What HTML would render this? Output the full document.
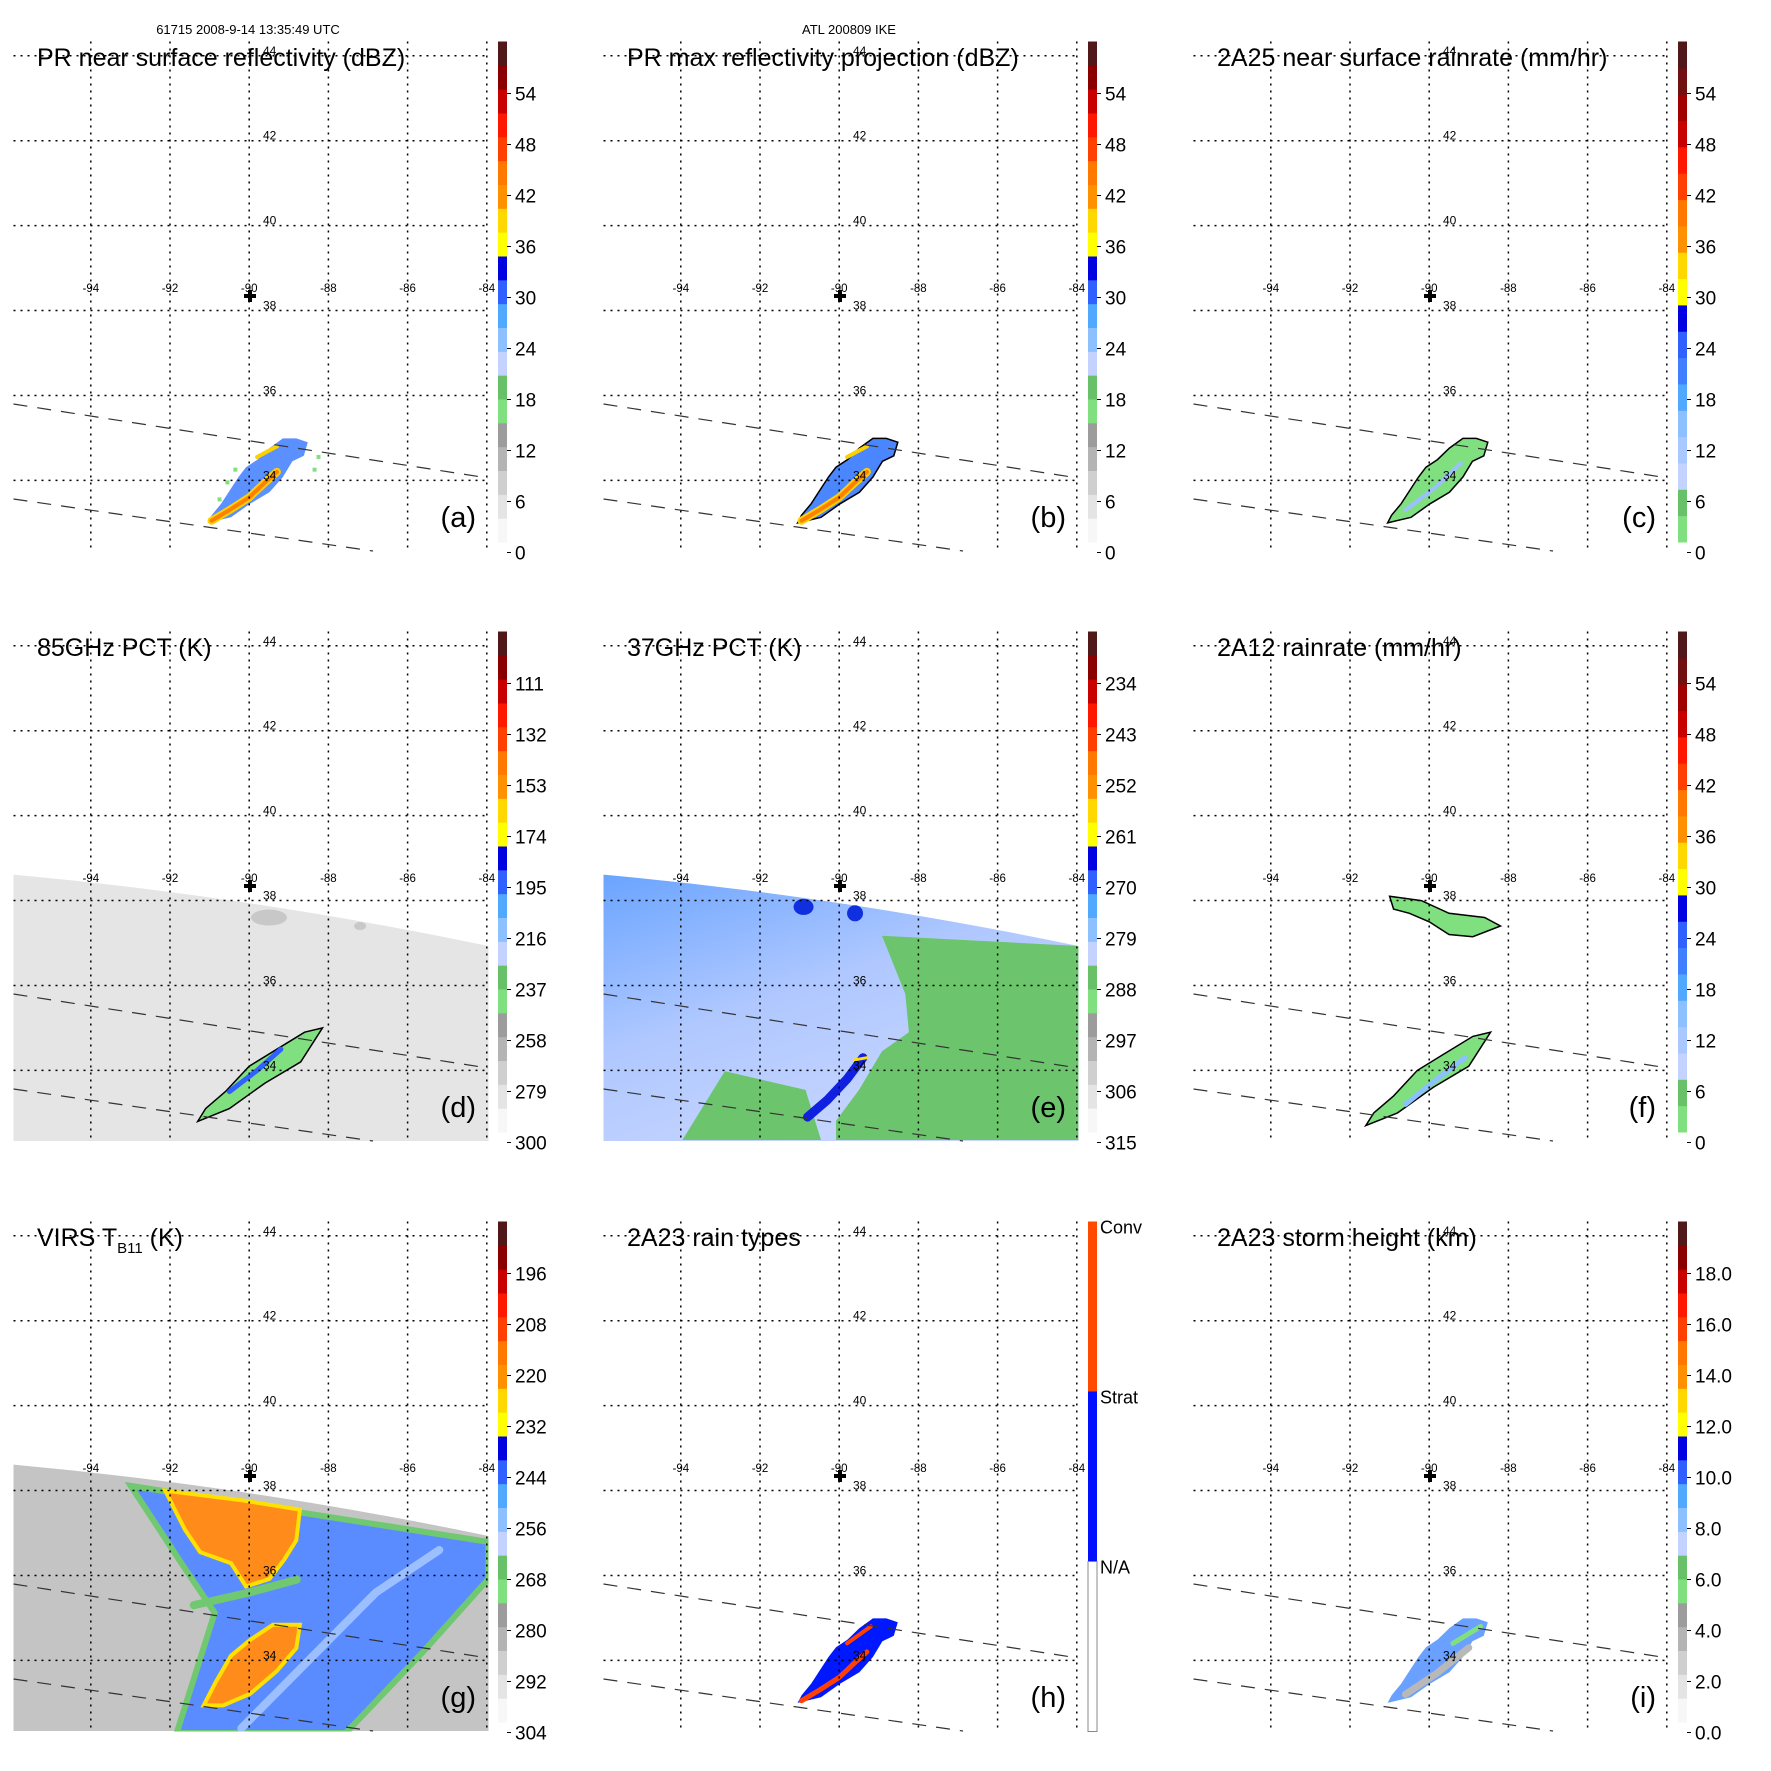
<!DOCTYPE html>
<html><head><meta charset="utf-8"><style>
html,body{margin:0;padding:0;background:#fff;}
svg{display:block;font-family:"Liberation Sans",sans-serif;}
</style></head><body>
<svg id="fig" width="1771" height="1771" viewBox="0 0 1771 1771" xmlns="http://www.w3.org/2000/svg">
<text x="248" y="34" font-size="13" text-anchor="middle">61715 2008-9-14 13:35:49 UTC</text>
<text x="849" y="34" font-size="13" text-anchor="middle">ATL 200809 IKE</text>
</svg>
<script>
const NS="http://www.w3.org/2000/svg";
const svg=document.getElementById('fig');
const lonTicks=[-94,-92,-90,-88,-86,-84];
const latTicks=[44,42,40,38,36,34];
const stormLon=[-91.05,-90.46,-89.98,-89.49,-89.15,-88.91,-88.62,-88.52,-88.81,-89.15,-89.49,-89.79,-90.08,-90.27,-90.46,-90.71,-90.95];
const stormLat=[33.0,33.13,33.45,33.72,34.08,34.45,34.58,34.90,34.99,34.99,34.76,34.49,34.31,34.08,33.81,33.45,33.18];
const convLon=[-90.95,-90.5,-90.0,-89.6,-89.3];
const convLat=[33.05,33.3,33.6,33.95,34.2];
const gBandLon=[-92.99,-83.96,-83.96,-85.61,-87.56,-91.83,-90.87,-91.72];
const gBandLat=[38.11,36.79,35.92,34.20,32.29,32.29,35.12,36.30];
const gTopLon=[-92.12,-90.18,-88.72,-88.81,-89.11,-89.49,-90.08,-90.46,-91.24,-91.63];
const gTopLat=[38.0,37.77,37.55,36.83,36.38,35.92,35.74,36.29,36.55,37.09];
const gBotLon=[-91.15,-90.85,-90.46,-89.98,-89.40,-88.72,-88.81,-89.30,-89.98,-90.66];
const gBotLat=[32.94,33.48,34.11,34.48,34.84,34.84,34.29,33.75,33.21,32.94];
const eGreenLon=[-88.92,-83.96,-83.96,-90.08,-90.08,-89.5,-88.92,-88.24,-88.33];
const eGreenLat=[37.17,36.93,32.36,32.36,32.81,33.54,34.45,34.90,35.80];
const eGreen2Lon=[-92.89,-90.85,-90.46,-93.96];
const eGreen2Lat=[33.98,33.54,32.36,32.36];
const fNorthLon=[-91.0,-90.2,-89.5,-88.6,-88.2,-88.9,-89.5,-90.0,-90.5,-90.9];
const fNorthLat=[38.1,38.0,37.7,37.6,37.4,37.15,37.2,37.5,37.7,37.8];
const fStormLon=[-91.6,-90.8,-89.9,-89.0,-88.45,-88.9,-89.6,-90.3,-90.9,-91.4];
const fStormLat=[32.7,33.0,33.6,34.1,34.9,34.8,34.4,34.0,33.4,33.0];
const cbA=['#f7f7f7','#e4e4e4','#cfcfcf','#b4b4b4','#9c9c9c','#80e080','#68c068','#c4d2ff','#8cc0ff','#50a8ff','#3060ff','#0000e0','#ffff00','#ffd800','#ff9000','#ff7800','#ff4000','#ff1800','#c80000','#8a0000','#501818'];
const cbC=['#80e080','#68c068','#c4d2ff','#a8c8ff','#8cc0ff','#50a8ff','#4080ff','#3060ff','#0000e0','#ffff00','#ffd800','#ff9000','#ff7800','#ff4000','#ff1800','#c80000','#a00000','#701010','#501818'];
const labels={
 a:['54','48','42','36','30','24','18','12','6','0'],
 b:['54','48','42','36','30','24','18','12','6','0'],
 c:['54','48','42','36','30','24','18','12','6','0'],
 d:['111','132','153','174','195','216','237','258','279','300'],
 e:['234','243','252','261','270','279','288','297','306','315'],
 f:['54','48','42','36','30','24','18','12','6','0'],
 g:['196','208','220','232','244','256','268','280','292','304'],
 i:['18.0','16.0','14.0','12.0','10.0','8.0','6.0','4.0','2.0','0.0']};
const panels=[
 {k:'a',c:0,r:0,t:'PR near surface reflectivity (dBZ)',cb:cbA},
 {k:'b',c:1,r:0,t:'PR max reflectivity projection (dBZ)',cb:cbA},
 {k:'c',c:2,r:0,t:'2A25 near surface rainrate (mm/hr)',cb:cbC},
 {k:'d',c:0,r:1,t:'85GHz PCT (K)',cb:cbA},
 {k:'e',c:1,r:1,t:'37GHz PCT (K)',cb:cbA},
 {k:'f',c:2,r:1,t:'2A12 rainrate (mm/hr)',cb:cbC},
 {k:'g',c:0,r:2,t:'VIRS',cb:cbA},
 {k:'h',c:1,r:2,t:'2A23 rain types',cb:null},
 {k:'i',c:2,r:2,t:'2A23 storm height (km)',cb:cbA}];
const X=lon=>90.8+(lon+94)*39.6;
const Y=lat=>55.8+(44-lat)*42.46;
function el(tag,attrs,parent){const e=document.createElementNS(NS,tag);for(const k in attrs)e.setAttribute(k,attrs[k]);(parent||svg).appendChild(e);return e;}
function pts(lons,lats){return lons.map((l,i)=>X(l).toFixed(1)+','+Y(lats[i]).toFixed(1)).join(' ');}
function poly(g,lons,lats,fill,stroke,sw,name){const p=el('polygon',{points:pts(lons,lats),fill:fill,stroke:stroke||'none','stroke-width':sw||0},g);

return p;}
function line(g,lons,lats,col,w,name){const p=el('polyline',{points:pts(lons,lats),fill:'none',stroke:col,'stroke-width':w,'stroke-linecap':'round','stroke-linejoin':'round'},g);

return p;}
const defs=el('defs',{});
panels.forEach(P=>{
 const ox=P.c*590, oy=P.r*590;
 const g=el('g',{transform:`translate(${ox},${oy})`});
 
 
 const cp=el('clipPath',{id:'clip'+P.k},defs);
 el('rect',{x:13.5,y:41.5,width:475,height:510},cp);
 const m=el('g',{'clip-path':`url(#clip${P.k})`},g);
 
 
 const swathTop=`M13.5,${Y(38.61)} Q250,${Y(38.1)} 488.5,${Y(36.93)} L488.5,551 L13.5,551 Z`;
 if(P.k==='d'){
  const s=el('path',{d:swathTop,fill:'#e5e5e5'},m);
  
  el('ellipse',{cx:X(-89.5),cy:Y(37.6),rx:18,ry:8,fill:'#c8c8c8'},m);
  el('ellipse',{cx:X(-87.2),cy:Y(37.4),rx:6,ry:4,fill:'#c8c8c8'},m);
  poly(m,fStormLon.map(v=>v+0.3),fStormLat.map(v=>v+0.1),'#80e080','#000',1.5,'pct85-storm');
  line(m,[-90.5,-89.8,-89.2],[33.5,34.0,34.5],'#3060ff',5,'pct85-core');
 }
 if(P.k==='e'){
  const gr=el('linearGradient',{id:'eg',x1:0,y1:0,x2:0.6,y2:1},defs);
  el('stop',{offset:0,'stop-color':'#6aa4ff'},gr);el('stop',{offset:0.5,'stop-color':'#b0c8ff'},gr);el('stop',{offset:1,'stop-color':'#c8d6ff'},gr);
  const s=el('path',{d:swathTop,fill:'url(#eg)'},m);
  
  poly(m,eGreenLon,eGreenLat,'#6cc46c','none',0,'pct37-warm-area');
  poly(m,eGreen2Lon,eGreen2Lat,'#6cc46c','none',0,'pct37-warm-area-2');
  el('ellipse',{cx:X(-90.9),cy:Y(37.85),rx:10,ry:8,fill:'#1030e0'},m);
  el('ellipse',{cx:X(-89.6),cy:Y(37.7),rx:8,ry:8,fill:'#1030e0'},m);
  line(m,[-90.8,-90.3,-89.8,-89.4],[32.9,33.3,33.8,34.3],'#1020e0',9,'pct37-cold-streak');
  line(m,[-89.6,-89.3],[34.25,34.3],'#ffe000',3,'pct37-coldest');
 }
 if(P.k==='g'){
  const s=el('path',{d:swathTop,fill:'#c4c4c4'},m);
  
  poly(m,gBandLon,gBandLat,'#5a8cff','#70c870',6,'virs-cloud-band');
  line(m,[-90.2,-88.5,-86.8,-85.2],[32.4,34.0,35.6,36.6],'#9cc0ff',8,'virs-band-streak');
  line(m,[-91.4,-90.0,-88.8],[35.3,35.6,35.9],'#70c870',8,'virs-band-green');
  poly(m,gTopLon,gTopLat,'#ff8c1a','#ffe000',4,'virs-top-cold-cloud');
  poly(m,gBotLon,gBotLat,'#ff8c1a','#ffe000',4,'virs-bottom-cold-cloud');
 }
 if(['a','b','c','h','i'].includes(P.k)){
  const fill={a:'#5a90ff',b:'#4a86ff',c:'#80e080',h:'#0018ff',i:'#6aa0ff'}[P.k];
  const st={a:'none',b:'#000',c:'#000',h:'none',i:'none'}[P.k];
  poly(m,stormLon,stormLat,fill,st,1.5,'storm-'+P.k);
  if(P.k==='a'||P.k==='b'){line(m,convLon,convLat,'#ffd000',8,'conv-band-'+P.k);line(m,convLon,convLat,'#ff8000',4,'conv-core-'+P.k);
   line(m,[-89.8,-89.3],[34.55,34.8],'#ffd000',4,'conv-band2-'+P.k);}
  if(P.k==='a'){[[-90.4,34.3],[-90.6,34.0],[-90.8,33.6],[-88.4,34.3],[-88.3,34.6]].forEach(q=>el('rect',{x:X(q[0]),y:Y(q[1]),width:4,height:4,fill:'#80e080'},m));}
  if(P.k==='c'){line(m,[-90.6,-89.9,-89.2],[33.3,33.8,34.4],'#9cc0ff',4,'rain-core-c');}
  if(P.k==='h'){line(m,convLon,convLat,'#ff4000',5,'conv-type-h');line(m,[-89.8,-89.2],[34.4,34.8],'#ff4000',4,'conv-type2-h');}
  if(P.k==='i'){line(m,[-90.6,-89.8,-89.0],[33.2,33.7,34.3],'#b8b8b8',7,'low-tops-i');line(m,[-89.4,-88.7],[34.4,34.8],'#80e080',5,'mid-tops-i');}
 }
 if(P.k==='f'){poly(m,fNorthLon,fNorthLat,'#80e080','#000',1.5,'rain-north-f');
  poly(m,fStormLon,fStormLat,'#80e080','#000',1.5,'rain-storm-f');
  line(m,[-90.6,-89.8,-89.1],[33.2,33.8,34.3],'#8cc0ff',5,'rain-core-f');}
 lonTicks.forEach(lon=>{const l=el('line',{x1:X(lon),x2:X(lon),y1:41.5,y2:551,stroke:'#000','stroke-width':1.5,'stroke-dasharray':'2,5'},g);
  
  const t=el('text',{x:X(lon),y:292,'font-size':11.5,'text-anchor':'middle'},g);t.textContent=lon;
  });
 latTicks.forEach(lat=>{const l=el('line',{x1:13.5,x2:488.5,y1:Y(lat),y2:Y(lat),stroke:'#000','stroke-width':1.5,'stroke-dasharray':'2,5'},g);
  
  const t=el('text',{x:263,y:Y(lat)-1,'font-size':12},g);t.textContent=lat;
  });
 [[13.5,404,488,478],[13.5,499,373,551]].forEach(s=>{const l=el('line',{x1:s[0],y1:s[1],x2:s[2],y2:s[3],stroke:'#333','stroke-width':1.2,'stroke-dasharray':'14,10'},g);
  });
 const cr=el('path',{d:'M244,296h12M250,290v12',stroke:'#000','stroke-width':4},g);
 
 const tt=el('text',{x:37,y:66,'font-size':25},g);
 if(P.k==='g'){tt.innerHTML='VIRS T<tspan font-size="15" dy="7">B11</tspan><tspan dy="-7"> (K)</tspan>';}else tt.textContent=P.t;
 
 const tg=el('text',{x:476,y:527,'font-size':29,'text-anchor':'end'},g);tg.textContent='('+P.k+')';
 
 const cb=el('g',{},g);
 if(P.cb){const n=P.cb.length,h=500.5/n;
  P.cb.forEach((c,i)=>el('rect',{x:498,y:(542-(i+1)*h).toFixed(2),width:9,height:(h+0.5).toFixed(2),fill:c},cb));
  labels[P.k].forEach((s,i)=>{const y=93.5+i*51;el('line',{x1:507,x2:511,y1:y,y2:y,stroke:'#000'},cb);
   const t=el('text',{x:515,y:y+7,'font-size':19},cb);t.textContent=s;
   });
 } else {
  el('rect',{x:498,y:41.5,width:9,height:170,fill:'#ff4a00'},cb);
  el('rect',{x:498,y:211.5,width:9,height:170,fill:'#0010ff'},cb);
  el('rect',{x:498,y:381.5,width:9,height:170,fill:'#fff',stroke:'#888'},cb);
  [['Conv',41.5],['Strat',211.5],['N/A',381.5]].forEach(q=>{const t=el('text',{x:510,y:q[1]+12,'font-size':18},cb);t.textContent=q[0];
   });
 }
});
</script>
</body></html>
